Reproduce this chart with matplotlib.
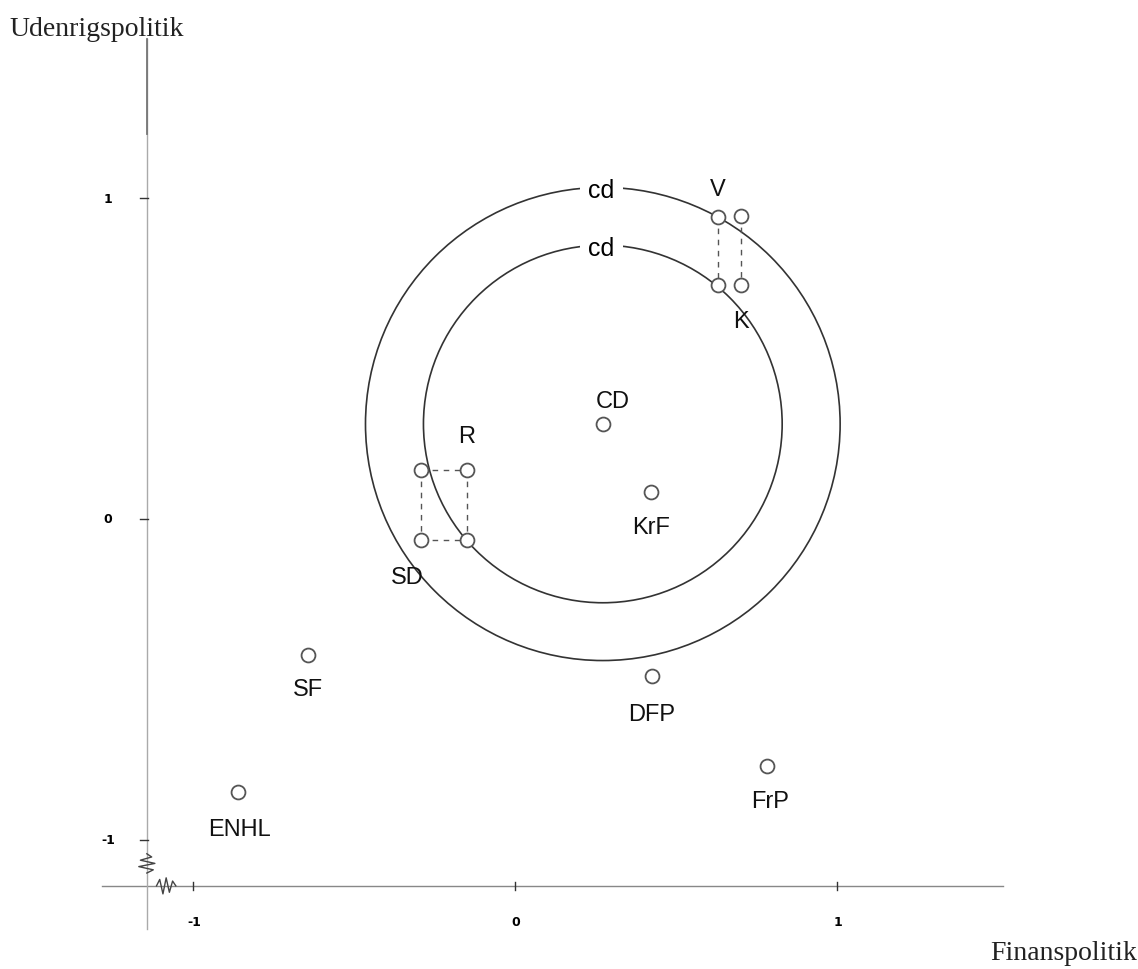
import numpy as np
import matplotlib
matplotlib.use("Agg")
import matplotlib.pyplot as plt
from matplotlib.patches import Circle

# --------------------------------------------------------------------------
# data (finanspolitik, udenrigspolitik)
# --------------------------------------------------------------------------
parties = ["V", "K", "R", "SD", "CD", "KrF", "DFP", "SF", "ENHL", "FrP"]
party_x = [0.630, 0.702, -0.149, -0.292, 0.273, 0.422, 0.425, -0.643, -0.860, 0.783]
party_y = [0.941, 0.729, 0.153, -0.065, 0.296, 0.084, -0.489, -0.424, -0.850, -0.769]

# second (shifted) positions of V, K, R and SD, joined with dashed lines
pair_names = ["V", "K", "R", "SD"]
pair_x = [0.702, 0.630, -0.292, -0.149]
pair_y = [0.944, 0.729, 0.153, -0.065]

# label offsets in pixels (dx, dy)
label_dx = [0, 0, 0, -14, 10, 0, 0, 0, 2, 3]
label_dy = [28, -36, 34, -37, 23, -35, -38, -34, -37, -35]

# the two CD indifference circles
circle_center = (0.273, 0.296)
circle_radius = [0.737, 0.557]
circle_label = ["cd", "cd"]

xticks = [-1, 0, 1]
yticks = [-1, 0, 1]

# axis frame (data units)
x_axis_at = -1.143
y_axis_at = -1.143

fig = plt.figure(figsize=(11.38, 9.70), dpi=100)
ax = fig.add_axes([0, 0, 1, 1])
ax.set_xlim(-1.599, 1.935)
ax.set_ylim(-1.402, 1.620)
ax.set_axis_off()

# axes with break marks
ax.plot([-1.283, 1.516], [y_axis_at, y_axis_at], color="#888888", lw=1.0)
ax.plot([x_axis_at, x_axis_at], [-1.277, 1.495], color="#aaaaaa", lw=1.0)
ax.plot([x_axis_at, x_axis_at], [1.20, 1.495], color="#777777", lw=1.3)
zz_x = [0.0, 0.01, 0.02, 0.03, 0.04, 0.05, 0.06]
zz_y = [0.0, 0.02, -0.025, 0.025, -0.02, 0.015, 0.0]
ax.plot(np.array(zz_x) + x_axis_at + 0.03, np.array(zz_y) + y_axis_at,
        color="#444444", lw=1.0)
ax.plot(np.array(zz_y) + x_axis_at, np.array(zz_x) + y_axis_at + 0.04,
        color="#444444", lw=1.0)

for t in xticks:
    ax.plot([t, t], [y_axis_at - 0.012, y_axis_at + 0.012], color="#333333", lw=1)
    ax.text(t + 0.003, y_axis_at - 0.11, str(t), ha="center", va="center",
            fontsize=9, fontweight="bold", family="DejaVu Sans")
for t in yticks:
    ax.plot([x_axis_at - 0.022, x_axis_at + 0.005], [t, t], color="#333333", lw=1)
    ax.text(x_axis_at - 0.12, t, str(t), ha="center", va="center",
            fontsize=9, fontweight="bold", family="DejaVu Sans")

ax.text(0.008, 0.970, "Udenrigspolitik", transform=ax.transAxes, ha="left",
        va="center", fontsize=20, family="Liberation Serif", color="#222222")
ax.text(0.999, 0.017, "Finanspolitik", transform=ax.transAxes, ha="right",
        va="center", fontsize=20, family="Liberation Serif", color="#222222")

# circles
for r, lab in zip(circle_radius, circle_label):
    ax.add_patch(Circle(circle_center, r, fill=False, ec="#333333", lw=1.2))
    ax.text(circle_center[0] - 0.004, circle_center[1] + r - 0.008, lab,
            ha="center", va="center", fontsize=18, family="Liberation Sans",
            bbox=dict(fc="white", ec="none", pad=6))

# dashed links between paired positions
pos = dict(zip(parties, zip(party_x, party_y)))
alt = dict(zip(pair_names, zip(pair_x, pair_y)))
dash = dict(color="#555555", lw=1.0, ls=(0, (4, 4)))
ax.plot([pos["V"][0], alt["K"][0]], [pos["V"][1], alt["K"][1]], **dash)
ax.plot([alt["V"][0], pos["K"][0]], [alt["V"][1], pos["K"][1]], **dash)
ax.plot([alt["R"][0], pos["R"][0]], [alt["R"][1], pos["R"][1]], **dash)
ax.plot([pos["SD"][0], alt["SD"][0]], [pos["SD"][1], alt["SD"][1]], **dash)
ax.plot([alt["R"][0], pos["SD"][0]], [alt["R"][1], pos["SD"][1]], **dash)
ax.plot([pos["R"][0], alt["SD"][0]], [pos["R"][1], alt["SD"][1]], **dash)

ax.plot(party_x, party_y, "o", ms=10, mfc="white", mec="#555555", mew=1.3,
        zorder=5)
ax.plot(pair_x, pair_y, "o", ms=10, mfc="white", mec="#555555", mew=1.3,
        zorder=5)

for name, x, y, dx, dy in zip(parties, party_x, party_y, label_dx, label_dy):
    ax.annotate(name, (x, y), xytext=(dx, dy), textcoords="offset pixels",
                ha="center", va="center", fontsize=17, family="Liberation Sans",
                color="#111111")

fig.savefig("out.png", dpi=100)
